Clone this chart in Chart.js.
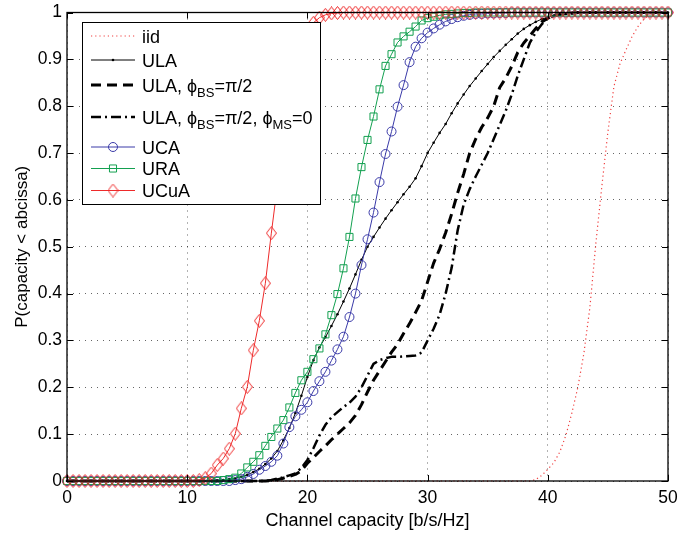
<!DOCTYPE html>
<html>
<head>
<meta charset="utf-8">
<script src="https://cdn.jsdelivr.net/npm/chart.js@4/dist/chart.umd.min.js"></script>
<style>
  html, body { margin: 0; padding: 0; background: #fff; }
  #wrap { width: 679px; height: 533px; }
</style>
</head>
<body>
<div id="wrap"><canvas id="c" width="679" height="533"></canvas></div>
<script>
// ---- data ----
const capacity = [
  0,0.5,1,1.5,2,2.5,3,3.5,4,4.5,5,5.5,6,6.5,7,7.5,8,8.5,9,9.5,
  10,10.5,11,11.5,12,12.5,13,13.5,14,14.5,15,15.5,16,16.5,17,17.5,18,18.5,19,19.5,
  20,20.5,21,21.5,22,22.5,23,23.5,24,24.5,25,25.5,26,26.5,27,27.5,28,28.5,29,29.5,
  30,30.5,31,31.5,32,32.5,33,33.5,34,34.5,35,35.5,36,36.5,37,37.5,38,38.5,39,39.5,
  40,40.5,41,41.5,42,42.5,43,43.5,44,44.5,45,45.5,46,46.5,47,47.5,48,48.5,49,49.5,50
];
const iid = [
  0,0,0,0,0,0,0,0,0,0, 0,0,0,0,0,0,0,0,0,0,
  0,0,0,0,0,0,0,0,0,0, 0,0,0,0,0,0,0,0,0,0,
  0,0,0,0,0,0,0,0,0,0, 0,0,0,0,0,0,0,0,0,0,
  0,0,0,0,0,0,0,0,0,0, 0,0,0,0,0,0,0,0,0.003,0.012,
  0.025,0.039,0.062,0.097,0.145,0.2,0.272,0.37,0.508,0.63, 0.745,0.842,0.89,0.92,0.948,0.97,0.986,0.995,0.999,1,1
];
const ula = [
  0,0,0,0,0,0,0,0,0,0, 0,0,0,0,0,0,0,0,0,0,
  0,0,0,0,0,0.001,0.002,0.004,0.006,0.009, 0.013,0.019,0.026,0.036,0.048,0.064,0.087,0.113,0.145,0.182,
  0.222,0.258,0.285,0.307,0.331,0.356,0.383,0.411,0.441,0.472, 0.5,0.521,0.541,0.56,0.578,0.595,0.612,0.628,0.646,0.672,
  0.7,0.722,0.743,0.762,0.785,0.806,0.825,0.843,0.859,0.875, 0.89,0.905,0.918,0.931,0.943,0.955,0.965,0.973,0.98,0.986,
  0.99,0.993,0.995,0.997,0.998,0.999,1,1,1,1, 1,1,1,1,1,1,1,1,1,1,1
];
const ulaBS = [
  0,0,0,0,0,0,0,0,0,0, 0,0,0,0,0,0,0,0,0,0,
  0,0,0,0,0,0,0,0,0,0, 0,0,0,0,0.001,0.003,0.006,0.01,0.014,0.022,
  0.038,0.05,0.063,0.075,0.088,0.1,0.112,0.124,0.14,0.163, 0.19,0.215,0.235,0.255,0.275,0.292,0.315,0.336,0.36,0.385,
  0.425,0.465,0.495,0.53,0.57,0.615,0.655,0.7,0.73,0.755, 0.775,0.8,0.84,0.86,0.885,0.915,0.935,0.95,0.966,0.98,
  0.988,0.993,0.996,0.998,0.999,1,1,1,1,1, 1,1,1,1,1,1,1,1,1,1,1
];
const ulaBSMS = [
  0,0,0,0,0,0,0,0,0,0, 0,0,0,0,0,0,0,0,0,0,
  0,0,0,0,0,0,0,0,0,0, 0,0,0,0,0.002,0.005,0.008,0.012,0.016,0.028,
  0.045,0.07,0.097,0.12,0.136,0.147,0.158,0.167,0.18,0.2, 0.225,0.25,0.258,0.262,0.265,0.265,0.266,0.267,0.268,0.274,
  0.3,0.325,0.355,0.4,0.455,0.535,0.59,0.623,0.65,0.675, 0.7,0.73,0.76,0.79,0.825,0.865,0.9,0.935,0.958,0.975,
  0.987,0.993,0.997,0.998,0.999,1,1,1,1,1, 1,1,1,1,1,1,1,1,1,1,1
];
const uca = [
  0,0,0,0,0,0,0,0,0,0, 0,0,0,0,0,0,0,0,0,0,
  0,0,0,0,0,0,0,0,0.002,0.004, 0.009,0.015,0.024,0.032,0.041,0.054,0.08,0.115,0.138,0.152,
  0.168,0.192,0.213,0.233,0.257,0.281,0.308,0.35,0.4,0.461, 0.516,0.573,0.638,0.698,0.746,0.799,0.845,0.894,0.927,0.945,
  0.957,0.966,0.974,0.981,0.986,0.99,0.993,0.995,0.997,0.997, 0.998,0.998,0.999,0.999,1,1,1,1,1,1,
  1,1,1,1,1,1,1,1,1,1, 1,1,1,1,1,1,1,1,1,1,1
];
const ura = [
  0,0,0,0,0,0,0,0,0,0, 0,0,0,0,0,0,0,0,0,0,
  0,0,0,0,0,0,0.002,0.004,0.007,0.016, 0.029,0.041,0.055,0.075,0.094,0.112,0.13,0.157,0.188,0.215,
  0.233,0.26,0.283,0.313,0.354,0.399,0.454,0.521,0.603,0.67, 0.728,0.778,0.836,0.886,0.911,0.936,0.949,0.959,0.97,0.983,
  0.988,0.991,0.994,0.996,0.997,0.998,0.999,0.999,1,1, 1,1,1,1,1,1,1,1,1,1,
  1,1,1,1,1,1,1,1,1,1, 1,1,1,1,1,1,1,1,1,1,1
];
const ucua = [
  0,0,0,0,0,0,0,0,0,0, 0,0,0,0,0,0,0,0,0,0,
  0,0,0.002,0.006,0.016,0.034,0.048,0.069,0.101,0.155, 0.201,0.279,0.342,0.422,0.529,0.63,0.73,0.82,0.89,0.935,
  0.962,0.978,0.989,0.995,0.998,0.999,1,1,1,1, 1,1,1,1,1,1,1,1,1,1,
  1,1,1,1,1,1,1,1,1,1, 1,1,1,1,1,1,1,1,1,1,
  1,1,1,1,1,1,1,1,1,1, 1,1,1,1,1,1,1,1,1,1,1
];
const xTicks = [0, 10, 20, 30, 40, 50];
const yTicks = [0, 0.1, 0.2, 0.3, 0.4, 0.5, 0.6, 0.7, 0.8, 0.9, 1];
const labels = ['iid', 'ULA', 'ULA, ϕBS=π/2', 'ULA, ϕBS=π/2, ϕMS=0', 'UCA', 'URA', 'UCuA'];

// ---- styles ----
const FONT = "'Liberation Sans', Arial, Helvetica, sans-serif";
const RED = '#ee2a2a', BLUE = '#3a3aa8', GREEN = '#13a050', BLACK = '#000';

function diamondCanvas(color) {
  const c = document.createElement('canvas');
  c.width = 11; c.height = 14;
  const g = c.getContext('2d');
  g.strokeStyle = color; g.lineWidth = 1;
  g.beginPath();
  g.moveTo(5.5, 0.5); g.lineTo(10.5, 7); g.lineTo(5.5, 13.5); g.lineTo(0.5, 7); g.closePath();
  g.stroke();
  return c;
}
const diamondImg = diamondCanvas(RED);

const pts = arr => capacity.map((x, i) => ({x: x, y: arr[i]}));

const series = [
  {label: labels[0], data: pts(iid), borderColor: '#f04040', borderWidth: 1.2, borderDash: [1.2, 3], pointRadius: 0},
  {label: labels[1], data: pts(ula), borderColor: BLACK, borderWidth: 1, pointRadius: 1.3, pointStyle: 'circle', pointBackgroundColor: BLACK, pointBorderWidth: 0},
  {label: labels[2], data: pts(ulaBS), borderColor: BLACK, borderWidth: 3, borderDash: [10, 6], pointRadius: 0},
  {label: labels[3], data: pts(ulaBSMS), borderColor: BLACK, borderWidth: 2.5, borderDash: [10, 4, 2, 4], pointRadius: 0},
  {label: labels[4], data: pts(uca), borderColor: BLUE, borderWidth: 1, pointRadius: 4.5, pointStyle: 'circle', pointBorderColor: BLUE, pointBackgroundColor: 'rgba(0,0,0,0)', pointBorderWidth: 1},
  {label: labels[5], data: pts(ura), borderColor: GREEN, borderWidth: 1, pointRadius: 5, pointStyle: 'rect', pointBorderColor: GREEN, pointBackgroundColor: 'rgba(0,0,0,0)', pointBorderWidth: 1},
  {label: labels[6], data: pts(ucua), borderColor: RED, borderWidth: 1, pointRadius: 6, pointStyle: diamondImg, pointBorderColor: RED, pointBackgroundColor: 'rgba(0,0,0,0)', pointBorderWidth: 1}
];
series.forEach((s, i) => { s.order = series.length - i; s.fill = false; s.tension = 0; s.clip = false; s.pointHoverRadius = s.pointRadius; });

// legend rows: segments of text, sub = subscript
const legendRows = [
  {y: 36, ds: 0, parts: [{t: 'iid'}]},
  {y: 60, ds: 1, parts: [{t: 'ULA'}]},
  {y: 85, ds: 2, parts: [{t: 'ULA, ϕ'}, {t: 'BS', sub: true}, {t: '=π/2'}]},
  {y: 117, ds: 3, parts: [{t: 'ULA, ϕ'}, {t: 'BS', sub: true}, {t: '=π/2, ϕ'}, {t: 'MS', sub: true}, {t: '=0'}]},
  {y: 147, ds: 4, parts: [{t: 'UCA'}]},
  {y: 168.5, ds: 5, parts: [{t: 'URA'}]},
  {y: 190.5, ds: 6, parts: [{t: 'UCuA'}]}
];

const framePlugin = {
  id: 'frame',
  afterDatasetsDraw(chart) {
    const ctx = chart.ctx;
    const a = chart.chartArea;
    const xs = chart.scales.x, ys = chart.scales.y;
    ctx.save();
    // axes box
    ctx.strokeStyle = '#000';
    ctx.lineWidth = 1.3;
    ctx.strokeRect(a.left, a.top, a.right - a.left, a.bottom - a.top);
    // inward ticks
    ctx.lineWidth = 1;
    ctx.beginPath();
    const TL = 6;
    xTicks.forEach(v => {
      const px = Math.round(xs.getPixelForValue(v)) + 0.5;
      ctx.moveTo(px, a.bottom); ctx.lineTo(px, a.bottom - TL);
      ctx.moveTo(px, a.top); ctx.lineTo(px, a.top + TL);
    });
    yTicks.forEach(v => {
      const py = Math.round(ys.getPixelForValue(v)) + 0.5;
      ctx.moveTo(a.left, py); ctx.lineTo(a.left + TL, py);
      ctx.moveTo(a.right, py); ctx.lineTo(a.right - TL, py);
    });
    ctx.stroke();

    // legend box
    const L = {x: 82, y: 22, w: 238, h: 182};
    ctx.fillStyle = '#fff';
    ctx.fillRect(L.x, L.y, L.w, L.h);
    ctx.lineWidth = 1;
    ctx.strokeStyle = '#000';
    ctx.strokeRect(L.x + 0.5, L.y + 0.5, L.w, L.h);

    const x0 = 91, x1 = 135, xm = 113, tx = 142;
    legendRows.forEach(r => {
      const ds = series[r.ds];
      ctx.save();
      ctx.strokeStyle = ds.borderColor;
      ctx.lineWidth = ds.borderWidth;
      ctx.setLineDash(ds.borderDash || []);
      ctx.beginPath();
      ctx.moveTo(x0, r.y); ctx.lineTo(x1, r.y);
      ctx.stroke();
      ctx.setLineDash([]);
      if (ds.pointRadius > 0) {
        if (ds.pointStyle === diamondImg) {
          ctx.drawImage(diamondImg, xm - diamondImg.width / 2, r.y - diamondImg.height / 2);
        } else {
          ctx.fillStyle = ds.pointBackgroundColor || ds.borderColor;
          ctx.strokeStyle = ds.pointBorderColor || ds.borderColor;
          ctx.lineWidth = ds.pointBorderWidth || 1;
          Chart.helpers.drawPoint(ctx, {
            pointStyle: ds.pointStyle, radius: ds.pointRadius, borderWidth: ds.pointBorderWidth, rotation: 0
          }, xm, r.y);
        }
      }
      ctx.restore();
      // text
      let cx = tx;
      ctx.fillStyle = '#000';
      ctx.textBaseline = 'alphabetic';
      ctx.textAlign = 'left';
      r.parts.forEach(p => {
        if (p.sub) {
          ctx.font = '13px ' + FONT;
          ctx.fillText(p.t, cx, r.y + 12);
        } else {
          ctx.font = '18px ' + FONT;
          ctx.fillText(p.t, cx, r.y + 6.5);
        }
        cx += ctx.measureText(p.t).width;
      });
    });
    ctx.restore();
  }
};

new Chart(document.getElementById('c'), {
  type: 'line',
  data: {datasets: series},
  plugins: [framePlugin],
  options: {
    responsive: false,
    animation: false,
    devicePixelRatio: 1,
    layout: {padding: {left: 0, right: 11, top: 12.5, bottom: 0}},
    plugins: {legend: {display: false}, tooltip: {enabled: false}},
    elements: {line: {borderJoinStyle: 'round'}},
    scales: {
      x: {
        type: 'linear', min: 0, max: 50,
        afterBuildTicks: s => { s.ticks = xTicks.map(v => ({value: v})); },
        afterFit: s => { s.height = 52; s.paddingLeft = 0; s.paddingRight = 0; },
        grid: {color: 'rgba(0,0,0,0.6)', lineWidth: 1, drawTicks: false},
        border: {display: false, dash: [1, 5]},
        ticks: {color: '#000', font: {family: FONT, size: 17.5}, padding: 7, maxRotation: 0},
        title: {display: true, text: 'Channel capacity [b/s/Hz]', color: '#000', font: {family: FONT, size: 18}, padding: {top: 0, bottom: 1}}
      },
      y: {
        type: 'linear', min: 0, max: 1,
        afterBuildTicks: s => { s.ticks = yTicks.map(v => ({value: v})); },
        afterFit: s => { s.width = 67; s.paddingTop = 0; s.paddingBottom = 0; },
        grid: {color: 'rgba(0,0,0,0.6)', lineWidth: 1, drawTicks: false},
        border: {display: false, dash: [1, 5]},
        ticks: {color: '#000', font: {family: FONT, size: 17.5}, padding: 5, callback: v => String(Math.round(v * 10) / 10)},
        title: {display: true, text: 'P(capacity < abcissa)', color: '#000', font: {family: FONT, size: 17}, padding: {top: 12, bottom: 0}}
      }
    }
  }
});
</script>
</body>
</html>
